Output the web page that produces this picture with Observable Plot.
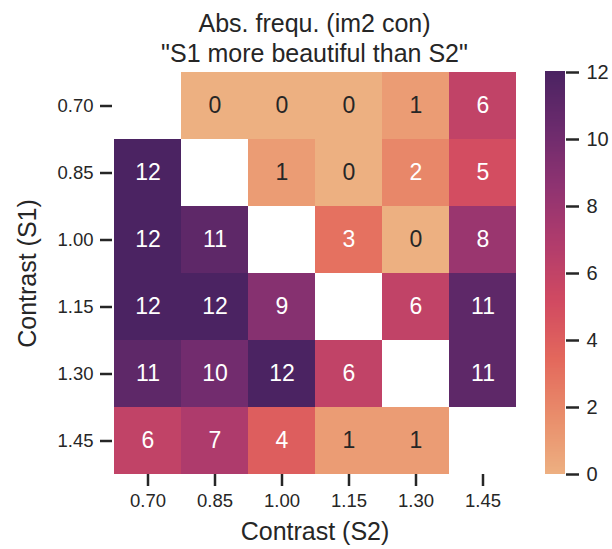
<!DOCTYPE html>
<html>
<head>
<meta charset="utf-8">
<script src="https://cdn.jsdelivr.net/npm/d3@7"></script>
<script src="https://cdn.jsdelivr.net/npm/@observablehq/plot@0.6"></script>
<style>
  html, body { margin: 0; padding: 0; background: white; }
  #chart { position: relative; width: 612px; height: 549px; font-family: "Liberation Sans", Arial, sans-serif; color: #262626; }
  #chart svg { position: absolute; top: 0; background: transparent; }
  .title { position: absolute; left: 112px; width: 405px; text-align: center; font-size: 25px; line-height: 30px; top: 8px; color: #262626; }
</style>
</head>
<body>
<div id="chart"></div>
<script>
// ---- data ----
const s1Levels = ["0.70", "0.85", "1.00", "1.15", "1.30", "1.45"]; // rows (y)
const s2Levels = ["0.70", "0.85", "1.00", "1.15", "1.30", "1.45"]; // columns (x)
const row070 = [null, 0, 0, 0, 1, 6];
const row085 = [12, null, 1, 0, 2, 5];
const row100 = [12, 11, null, 3, 0, 8];
const row115 = [12, 12, 9, null, 6, 11];
const row130 = [11, 10, 12, 6, null, 11];
const row145 = [6, 7, 4, 1, 1, null];
const countRows = [row070, row085, row100, row115, row130, row145];
const colorTicks = [0, 2, 4, 6, 8, 10, 12];
const titleLines = ["Abs. frequ. (im2 con)", "\"S1 more beautiful than S2\""];
const xLabel = "Contrast (S2)";
const yLabel = "Contrast (S1)";

// seaborn "flare" colormap stops
const flareStops = ["#edb081", "#e98d6b", "#e3685c", "#d14a61", "#b13c6c", "#8f3371", "#6c2b6d", "#4b2362"];
const vmin = 0, vmax = 12;
const colorDomain = flareStops.map((_, i) => vmin + (vmax - vmin) * i / (flareStops.length - 1));
const colorScale = {type: "linear", domain: colorDomain, range: flareStops, interpolate: "rgb"};

const cells = [];
countRows.forEach((row, i) => row.forEach((v, j) => {
  if (v !== null) cells.push({s1: s1Levels[i], s2: s2Levels[j], value: v});
}));

const ink = "#262626";
const font = "Liberation Sans, Arial, sans-serif";

const heat = Plot.plot({
  width: 530, height: 549,
  marginLeft: 112, marginRight: 13, marginTop: 72, marginBottom: 75,
  style: {fontFamily: font, fontSize: "18.5px", color: ink, background: "transparent", overflow: "visible"},
  x: {type: "band", domain: s2Levels, padding: 0},
  y: {type: "band", domain: s1Levels, padding: 0},
  color: colorScale,
  marks: [
    Plot.cell(cells, {x: "s2", y: "s1", fill: "value", shapeRendering: "crispEdges"}),
    Plot.text(cells, {x: "s2", y: "s1", text: d => String(d.value), fontSize: 23,
      fill: d => d.value <= 1 ? ink : "white"}),
    Plot.axisX({tickSize: 12, tickPadding: 7, strokeWidth: 2.5, label: null}),
    Plot.axisX({ticks: [], tickSize: 0, label: xLabel, labelAnchor: "center", labelOffset: 65, fontSize: 25}),
    Plot.axisY({tickSize: 12, tickPadding: 7, strokeWidth: 2.5, label: null}),
    Plot.axisY({ticks: [], tickSize: 0, label: yLabel, labelAnchor: "center", labelOffset: 94, fontSize: 25})
  ]
});
heat.style.left = "0px";

const stepsN = 240;
const bands = d3.range(stepsN).map(i => ({lo: vmin + (vmax - vmin) * i / stepsN, hi: vmin + (vmax - vmin) * (i + 1) / stepsN}));

const bar = Plot.plot({
  width: 82, height: 549,
  marginLeft: 15, marginRight: 47, marginTop: 72, marginBottom: 75,
  style: {fontFamily: font, fontSize: "20px", color: ink, background: "transparent", overflow: "visible"},
  y: {type: "linear", domain: [vmin, vmax]},
  color: colorScale,
  marks: [
    Plot.rect(bands, {y1: "lo", y2: d => d.hi + (vmax - vmin) / stepsN * 0.5, fill: d => (d.lo + d.hi) / 2, shapeRendering: "crispEdges"}),
    Plot.axisY({anchor: "right", ticks: colorTicks, tickFormat: d => String(d), tickSize: 13, tickPadding: 8, strokeWidth: 2.5, label: null})
  ]
});
bar.style.left = "530px";

const chart = document.getElementById("chart");
chart.appendChild(heat);
chart.appendChild(bar);
const title = document.createElement("div");
title.className = "title";
title.innerHTML = titleLines.map(t => t.replace(/&/g, "&amp;").replace(/</g, "&lt;")).join("<br>");
chart.appendChild(title);
</script>
</body>
</html>
